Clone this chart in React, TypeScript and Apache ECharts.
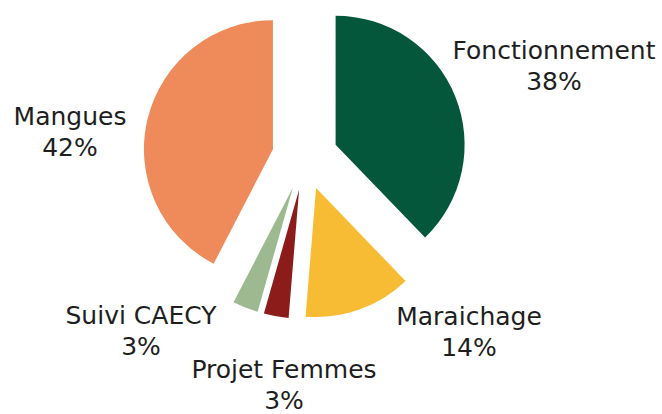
import React, { useEffect, useRef } from "react";
import * as echarts from "echarts";

const categories = ["Fonctionnement", "Maraichage", "Projet Femmes", "Suivi CAECY", "Mangues"];
const shares = [37.8, 13.5, 3.1, 3.2, 42.4];
const colors = ["#04573B", "#F7BC33", "#8C1C19", "#9CB98F", "#EF8B5A"];

// label block centres (layout, px)
const labelAnchors: [number, number][] = [
  [554, 66],
  [469, 332],
  [284, 385],
  [141, 331],
  [70, 132],
];

export default function App() {
  const ref = useRef<HTMLDivElement>(null);
  useEffect(() => {
    if (!ref.current) return;
    const chart = echarts.init(ref.current, undefined, { renderer: "svg" });
    const total = shares.reduce((a, b) => a + b, 0);
    const labels = categories.map((name, i) => ({
      type: "text",
      x: labelAnchors[i][0],
      y: labelAnchors[i][1],
      silent: true,
      style: {
        text: `${name}\n${Math.round((shares[i] / total) * 100)}%`,
        fontFamily: "DejaVu Sans",
        fontSize: 25,
        lineHeight: 31,
        fill: "#1e1e1e",
        align: "center",
        verticalAlign: "middle",
      },
    }));
    chart.setOption({
      animation: false,
      backgroundColor: "#ffffff",
      graphic: { elements: labels },
      series: [
        {
          type: "pie",
          center: [305, 157],
          radius: 129,
          startAngle: 90,
          clockwise: true,
          selectedMode: "multiple",
          selectedOffset: 33,
          avoidLabelOverlap: false,
          silent: true,
          emphasis: { disabled: true },
          label: { show: false },
          labelLine: { show: false },
          data: categories.map((name, i) => ({
            name,
            value: shares[i],
            selected: true,
            itemStyle: { color: colors[i] },
          })),
        },
      ],
    });
    return () => chart.dispose();
  }, []);
  return (
    <div
      ref={ref}
      style={{ position: "absolute", left: 0, top: 0, width: 662, height: 414 }}
    />
  );
}
